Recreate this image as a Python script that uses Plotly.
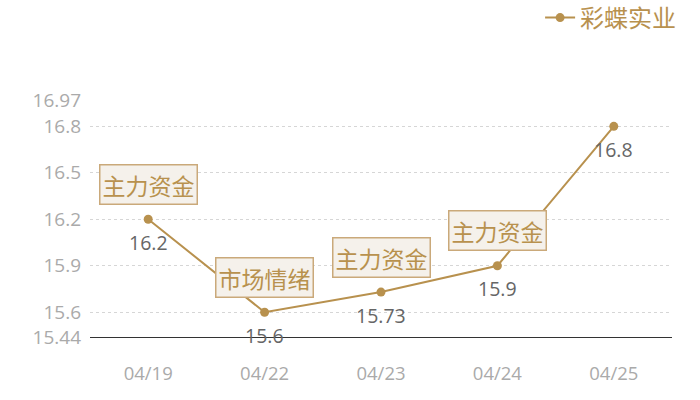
import plotly.graph_objects as go

dates = ['04/19', '04/22', '04/23', '04/24', '04/25']
prices = [16.2, 15.6, 15.73, 15.9, 16.8]
tags = ['主力资金', '市场情绪', '主力资金', '主力资金', None]
series_name = '彩蝶实业'
y_ticks = [15.44, 15.6, 15.9, 16.2, 16.5, 16.8, 16.97]
y_tick_text = ['15.44', '15.6', '15.9', '16.2', '16.5', '16.8', '16.97']

gold = '#b8914e'
cjk = 'Noto Sans CJK SC'
num_font = 'Open Sans'

fig = go.Figure()
fig.add_trace(go.Scatter(
    x=dates, y=prices, name=series_name, mode='lines+markers',
    line=dict(color=gold, width=2),
    marker=dict(color=gold, size=9),
    hoverinfo='skip'
))

anns = []
for d, p, t in zip(dates, prices, tags):
    # value under the point
    anns.append(dict(x=d, y=p, text=str(p), showarrow=False, yshift=-23,
                     font=dict(family=num_font, size=19.5, color='#666666')))
    if t:
        anns.append(dict(x=d, y=p, text=t, showarrow=False, yshift=35,
                         font=dict(family=cjk, size=23, color=gold),
                         bgcolor='#f5f1eb', bordercolor='#caa97a',
                         borderwidth=1.5, borderpad=2))

fig.update_layout(
    width=700, height=400,
    margin=dict(l=90, r=28, t=100, b=63),
    paper_bgcolor='white', plot_bgcolor='white',
    showlegend=True,
    legend=dict(orientation='h', xref='container', yref='container',
                x=0.973, xanchor='right', y=0.955, yanchor='middle',
                itemwidth=30,
                font=dict(family=cjk, size=24, color=gold),
                bgcolor='rgba(0,0,0,0)'),
    annotations=anns,
    xaxis=dict(type='category', range=[-0.5, 4.5], showgrid=False,
               showline=True, linecolor='#333333', linewidth=1,
               ticks='', tickfont=dict(family=num_font, size=18.5, color='#aaaaaa'),
               ticklabelstandoff=20, zeroline=False),
    yaxis=dict(range=[15.44, 16.97], tickvals=y_ticks, ticktext=y_tick_text,
               showgrid=True, gridcolor='#d6d6d6', griddash='dot', gridwidth=1,
               zeroline=False, showline=False, ticks='',
               tickfont=dict(family=num_font, size=19, color='#aaaaaa'),
               ticklabelstandoff=8),
)

fig.write_html('out.html', config={'displayModeBar': False},
               post_script="document.body.style.margin='0';")
